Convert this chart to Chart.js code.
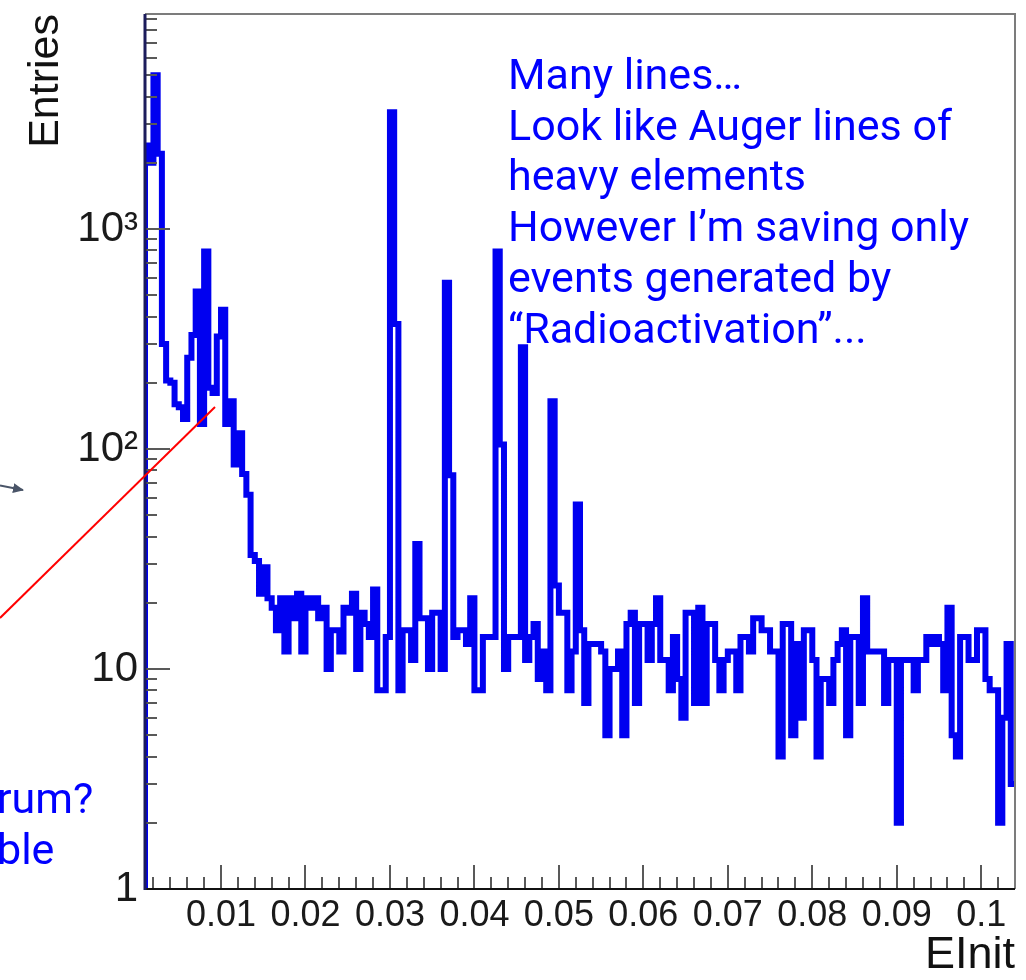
<!DOCTYPE html>
<html>
<head>
<meta charset="utf-8">
<script src="https://cdn.jsdelivr.net/npm/chart.js@4.4.1/dist/chart.umd.min.js"></script>
<style>
  html, body { margin: 0; padding: 0; background: #fff; }
  #wrap { position: relative; width: 1026px; height: 980px; overflow: hidden; background: #fff; }
  #c { position: absolute; left: 0; top: 0; }
  .note { position: absolute; font-family: Roboto, "Noto Sans", sans-serif; font-size: 43px;
          line-height: 50.7px; color: #0000ff; white-space: pre; }
  #marks { position: absolute; left: 0; top: 0; }
</style>
</head>
<body>
<div id="wrap">
  <canvas id="c" width="1026" height="980"></canvas>
  <div class="note" style="left:508px; top:49px;">Many lines…
Look like Auger lines of
heavy elements
However I’m saving only
events generated by
“Radioactivation”...</div>
  <div class="note" style="left:-3px; top:773px;">rum?
ble</div>
  <svg id="marks" width="1026" height="980">
    <defs>
      <marker id="head" markerWidth="11" markerHeight="10" refX="10" refY="5" orient="auto" markerUnits="userSpaceOnUse">
        <path d="M0,0 L11,5 L0,10 z" fill="#4a5568"/>
      </marker>
    </defs>
    <line x1="0" y1="618" x2="215" y2="407" stroke="#ff0000" stroke-width="2"/>
    <line x1="0" y1="485.5" x2="23" y2="490" stroke="#4a5568" stroke-width="2" marker-end="url(#head)"/>
  </svg>
</div>
<script>
// Histogram binning of EInit
const binLow = 0.001;
const binWidth = 0.0005;

// Entries per bin (206 bins, 0.001 .. 0.104)
const counts = [
  2400, 2000, 5000, 2200, 300, 205, 200, 160, 155, 137,
  260, 330, 520, 130, 790, 190, 180, 325, 430, 130,
  165, 85, 118, 77, 62, 33, 31, 22, 29, 21,
  19, 15, 21, 12, 21, 17, 22, 12, 21, 19,
  21, 17, 19, 10, 15, 15, 12, 19, 18, 22,
  10, 18, 16, 14, 23, 8, 8, 14, 3400, 370,
  8, 15, 15, 11, 37, 17, 17, 10, 18, 18,
  10, 570, 76, 14, 15, 15, 13, 21, 8, 8,
  14, 14, 14, 790, 105, 10, 14, 14, 14, 290,
  11, 14, 16, 9, 12, 8, 165, 24, 18, 18,
  8, 12, 56, 15, 7, 13, 13, 13, 12, 5,
  10, 10, 12, 5, 16, 18, 7, 16, 16, 11,
  16, 21, 11, 11, 8, 14, 9, 6, 18, 18,
  7, 19, 7, 16, 16, 11, 8, 11, 12, 12,
  8, 14, 14, 12, 17, 17, 15, 15, 12, 12,
  4, 16, 16, 5, 13, 6, 15, 15, 11, 4,
  9, 9, 7, 11, 13, 15, 5, 14, 14, 7,
  21, 12, 12, 12, 12, 7, 11, 11, 2, 11,
  11, 11, 8, 11, 11, 14, 13, 14, 13, 8,
  19, 5, 4, 14, 14, 11, 11, 15, 15, 9,
  8, 8, 2, 6, 13, 3
];

// Axis ranges and tick labels
const xRange = [0.001, 0.104];
const yRange = [1, 9500];
const xMajorTicks = [0.01, 0.02, 0.03, 0.04, 0.05, 0.06, 0.07, 0.08, 0.09, 0.1];
const xTickLabels = ['0.01', '0.02', '0.03', '0.04', '0.05', '0.06', '0.07', '0.08', '0.09', '0.1'];
const yMajorTicks = [1, 10, 100, 1000];
const yTickLabels = ['1', '10', '10²', '10³'];

// Minor tick values (every 0.002 on x, 2..9 per decade on y)
const xMinorTicks = [];
for (let k = 1; k <= 52; k++) {
  const v = +(k * 0.002).toFixed(3);
  if (k % 5 !== 0 && v <= xRange[1]) xMinorTicks.push(v);
}
const yMinorTicks = [];
[1, 10, 100, 1000].forEach(d => {
  for (let m = 2; m <= 9; m++) if (m * d <= yRange[1]) yMinorTicks.push(m * d);
});

// Step outline: start from the baseline, one point per bin low edge, close at the last edge
const outline = [{ x: binLow, y: yRange[0] }];
counts.forEach((c, i) => outline.push({ x: binLow + i * binWidth, y: c }));
outline.push({ x: binLow + counts.length * binWidth, y: counts[counts.length - 1] });

// Inward ticks and frame, drawn over the histogram like a ROOT pad
const frameTicks = {
  id: 'frameTicks',
  afterDatasetsDraw(chart) {
    const { ctx, chartArea: a, scales: { x, y } } = chart;
    ctx.save();
    ctx.lineWidth = 2;
    ctx.strokeStyle = '#595959';
    ctx.beginPath();
    xMinorTicks.forEach(v => { const p = Math.round(x.getPixelForValue(v)); ctx.moveTo(p, a.bottom); ctx.lineTo(p, a.bottom - 12); });
    xMajorTicks.forEach(v => { const p = Math.round(x.getPixelForValue(v)); ctx.moveTo(p, a.bottom); ctx.lineTo(p, a.bottom - 24); });
    yMinorTicks.forEach(v => { const p = Math.round(y.getPixelForValue(v)); ctx.moveTo(a.left, p); ctx.lineTo(a.left + 12, p); });
    yMajorTicks.slice(1).forEach(v => { const p = Math.round(y.getPixelForValue(v)); ctx.moveTo(a.left, p); ctx.lineTo(a.left + 25, p); });
    ctx.stroke();

    ctx.strokeStyle = '#7c7c7c';
    ctx.beginPath();
    ctx.moveTo(a.left, a.top); ctx.lineTo(a.right, a.top); ctx.lineTo(a.right, a.bottom);
    ctx.stroke();

    ctx.strokeStyle = '#111111';
    ctx.beginPath();
    ctx.moveTo(a.left, a.bottom); ctx.lineTo(a.right, a.bottom);
    ctx.stroke();

    ctx.lineWidth = 3;
    ctx.strokeStyle = '#1c1c5c';
    ctx.beginPath();
    ctx.moveTo(a.left, a.top); ctx.lineTo(a.left, a.bottom + 1);
    ctx.stroke();
    ctx.restore();
  }
};

new Chart(document.getElementById('c'), {
  type: 'line',
  data: {
    datasets: [{
      data: outline,
      stepped: 'before',
      borderColor: '#0000f0',
      borderWidth: 6,
      borderJoinStyle: 'miter',
      borderCapStyle: 'butt',
      pointRadius: 0,
      fill: false,
      tension: 0
    }]
  },
  options: {
    responsive: false,
    devicePixelRatio: 1,
    animation: false,
    layout: { padding: { left: 0, right: 11, top: 14, bottom: 0 } },
    plugins: { legend: { display: false }, tooltip: { enabled: false } },
    scales: {
      x: {
        type: 'linear',
        position: 'bottom',
        min: xRange[0],
        max: xRange[1],
        afterBuildTicks: s => { s.ticks = xMajorTicks.map(v => ({ value: v })); },
        afterFit: s => { s.height = 91; s.paddingLeft = 0; s.paddingRight = 0; },
        grid: { display: false, drawTicks: false },
        border: { display: false },
        ticks: {
          autoSkip: false, maxRotation: 0, minRotation: 0, padding: 5,
          color: '#1a1a1a',
          font: { family: '"Liberation Sans", Arial, sans-serif', size: 36 },
          callback: (v, i) => xTickLabels[i]
        },
        title: {
          display: true, text: 'EInit', align: 'end', color: '#111',
          font: { family: '"Liberation Sans", Arial, sans-serif', size: 45, lineHeight: 1 },
          padding: { top: 0, bottom: 2 }
        }
      },
      y: {
        type: 'logarithmic',
        position: 'left',
        min: yRange[0],
        max: yRange[1],
        afterBuildTicks: s => { s.ticks = yMajorTicks.map(v => ({ value: v })); },
        afterFit: s => { s.width = 145; s.paddingTop = 0; s.paddingBottom = 0; },
        grid: { display: false, drawTicks: false },
        border: { display: false },
        ticks: {
          autoSkip: false, padding: 7,
          color: '#1a1a1a',
          font: { family: '"Liberation Sans", Arial, sans-serif', size: 42 },
          callback: (v, i) => yTickLabels[i]
        },
        title: {
          display: true, text: 'Entries', align: 'end', color: '#111',
          font: { family: '"Liberation Sans", Arial, sans-serif', size: 43 },
          padding: { top: 20, bottom: 0 }
        }
      }
    }
  },
  plugins: [frameTicks]
});
</script>
</body>
</html>
